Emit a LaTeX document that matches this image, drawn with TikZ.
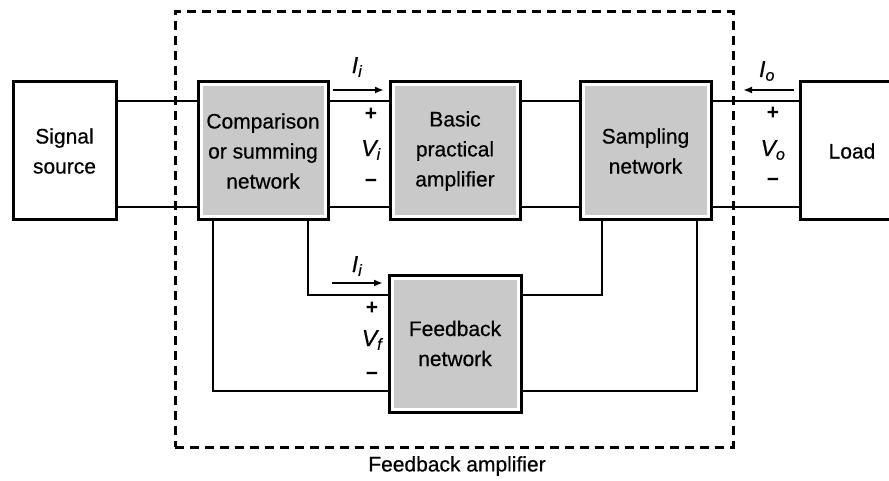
\documentclass[tikz,border=0pt]{standalone}
\usepackage{fontspec}
\setmainfont{Liberation Sans}
\newcommand{\heavyfont}[1]{\fontsize{#1}{30}\selectfont\addfontfeatures{FakeBold=0.5}}
\usetikzlibrary{arrows.meta}
\begin{document}
\begin{tikzpicture}[x=1pt,y=-1pt,
  blk/.style={draw=black,line width=3pt,minimum height=138pt,align=center,inner sep=0pt,font=\heavyfont{21}},
  grayblk/.style={blk,fill=white,path picture={\fill[gray!42] ([shift={(4.5pt,-4.5pt)}]path picture bounding box.north west) rectangle ([shift={(-4.5pt,4.5pt)}]path picture bounding box.south east);}},
  wire/.style={line width=2.7pt},
  lbl/.style={font=\itshape\heavyfont{23},inner sep=0pt},
  sgn/.style={font=\fontsize{21}{24}\selectfont\bfseries,inner sep=0pt},
  cur/.style={line width=2.4pt,-{Latex[length=9pt,width=7pt]}},
  dashbox/.style={draw=black,line width=3pt,dash pattern=on 9pt off 6pt,inner sep=0pt},
]
\useasboundingbox (0,0) rectangle (889,481);
% dashed enclosure
\node[dashbox,minimum width=558pt,minimum height=435pt] (amp) at (454,229.5) {};
\node[font=\heavyfont{21},inner sep=0pt] (amplbl) at (457,466) {Feedback amplifier};
% blocks
\node[blk,minimum width=103pt] (src) at (64.5,151) {Signal\\source};
\node[grayblk,minimum width=130pt] (cmp) at (263,151) {Comparison\\or summing\\network};
\node[grayblk,minimum width=130pt] (bas) at (455,151) {Basic\\practical\\amplifier};
\node[grayblk,minimum width=131pt] (smp) at (645.5,151) {Sampling\\network};
\node[blk,minimum width=104pt] (load) at (852,151) {Load};
\node[grayblk,minimum width=132pt,minimum height=137pt] (fb) at (455,343.5) {Feedback\\network};
% main wires
\foreach \yy in {101,207}{
  \draw[wire] (src.east |- 0,\yy) -- (cmp.west |- 0,\yy);
  \draw[wire] (cmp.east |- 0,\yy) -- (bas.west |- 0,\yy);
  \draw[wire] (bas.east |- 0,\yy) -- (smp.west |- 0,\yy);
  \draw[wire] (smp.east |- 0,\yy) -- (load.west |- 0,\yy);
}
% feedback wires
\draw[wire] (cmp.south -| 213,0) |- (fb.west |- 0,391);
\draw[wire] (cmp.south -| 308,0) |- (fb.west |- 0,295);
\draw[wire] (smp.south -| 602,0) |- (fb.east |- 0,295);
\draw[wire] (smp.south -| 697,0) |- (fb.east |- 0,391);
% currents
\coordinate (a1) at (333,90); \coordinate (a2) at (384,90);
\draw[cur] (a1) -- (a2);
\coordinate (b1) at (332,283); \coordinate (b2) at (383,283);
\draw[cur] (b1) -- (b2);
\coordinate (c1) at (794,90); \coordinate (c2) at (743,90);
\draw[cur] (c1) -- (c2);
% labels
\node[lbl] (ii1) at (357,67) {I\textsubscript{i}};
\node[sgn] (p1) at (371,114) {+};
\node[lbl] (vi) at (371,150) {V\textsubscript{i}};
\node[sgn] (m1) at (371,183) {−};
\node[lbl] (ii2) at (357,266) {I\textsubscript{i}};
\node[sgn] (p2) at (372,308) {+};
\node[lbl] (vf) at (372,340) {V\textsubscript{f}};
\node[sgn] (m2) at (372,376) {−};
\node[lbl] (io) at (767,71) {I\textsubscript{o}};
\node[sgn] (p3) at (773,113) {+};
\node[lbl] (vo) at (773,150) {V\textsubscript{o}};
\node[sgn] (m3) at (773,182) {−};
\end{tikzpicture}
\end{document}
